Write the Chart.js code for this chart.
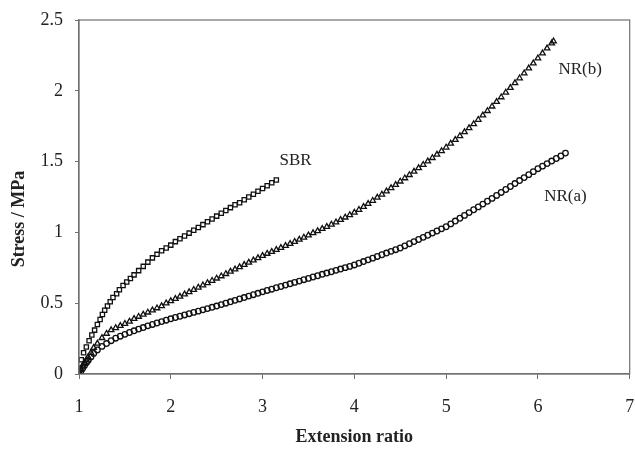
<!DOCTYPE html>
<html>
<head>
<meta charset="utf-8">
<script src="https://cdn.jsdelivr.net/npm/chart.js@4/dist/chart.umd.min.js"></script>
<style>
  html, body { margin: 0; padding: 0; background: #fff; }
  #wrap { width: 635px; height: 450px; }
</style>
</head>
<body>
<div id="wrap"><canvas id="stressChart"></canvas></div>
<script>
/* ── data ── */
const sbrX = [1.00,1.01,1.025,1.05,1.08,1.11,1.14,1.17,1.20,1.23,1.255,1.28,1.31,1.34,1.37,1.41,1.44,1.48,1.52,1.56,
  1.60,1.65,1.70,1.75,1.80,1.85,1.90,1.95,2.00,2.05,2.10,2.15,2.20,2.25,2.30,2.35,2.40,2.45,2.50,2.55,
  2.60,2.65,2.70,2.75,2.80,2.85,2.90,2.95,3.00,3.05,3.10,3.15];
const sbrY = [0.00,0.04,0.10,0.15,0.19,0.235,0.275,0.31,0.35,0.385,0.42,0.45,0.48,0.51,0.54,0.567,0.595,0.625,0.65,0.675,
  0.70,0.73,0.76,0.79,0.82,0.845,0.87,0.89,0.91,0.935,0.955,0.975,0.995,1.015,1.035,1.055,1.075,1.095,1.115,1.135,
  1.155,1.175,1.195,1.21,1.23,1.25,1.27,1.29,1.31,1.33,1.35,1.37];

const nrbX = [1.00,1.02,1.04,1.06,1.08,1.10,1.13,1.16,1.20,1.25,1.30,1.35,1.40,1.45,1.50,1.55,1.60,1.65,1.70,1.75,
  1.80,1.85,1.90,1.95,2.00,2.05,2.10,2.15,2.20,2.25,2.30,2.35,2.40,2.45,2.50,2.55,2.60,2.65,2.70,2.75,
  2.80,2.85,2.90,2.95,3.00,3.05,3.10,3.15,3.20,3.25,3.30,3.35,3.40,3.45,3.50,3.55,3.60,3.65,3.70,3.75,
  3.80,3.85,3.90,3.95,4.00,4.05,4.10,4.15,4.20,4.25,4.30,4.35,4.40,4.45,4.50,4.55,4.60,4.65,4.70,4.75,
  4.80,4.85,4.90,4.95,5.00,5.05,5.10,5.15,5.20,5.25,5.30,5.35,5.40,5.45,5.50,5.55,5.60,5.65,5.70,5.75,
  5.80,5.85,5.90,5.95,6.00,6.05,6.10,6.15,6.17];
const nrbY = [0.00,0.03,0.06,0.08,0.10,0.12,0.15,0.185,0.215,0.255,0.285,0.31,0.325,0.34,0.355,0.37,0.39,0.405,0.42,0.435,
  0.45,0.465,0.48,0.50,0.515,0.531,0.547,0.563,0.579,0.595,0.611,0.627,0.643,0.659,0.675,0.691,0.707,0.723,0.739,0.755,
  0.771,0.787,0.803,0.819,0.835,0.85,0.863,0.877,0.891,0.905,0.919,0.934,0.949,0.964,0.98,0.995,1.01,1.025,1.04,1.056,
  1.072,1.089,1.106,1.123,1.14,1.16,1.181,1.202,1.224,1.246,1.268,1.29,1.313,1.336,1.36,1.383,1.406,1.43,1.454,1.478,
  1.502,1.526,1.55,1.575,1.60,1.627,1.654,1.681,1.709,1.737,1.765,1.796,1.827,1.858,1.89,1.922,1.955,1.988,2.021,2.055,
  2.089,2.124,2.159,2.194,2.23,2.265,2.30,2.335,2.35];

const nraX = [1.00,1.02,1.04,1.06,1.08,1.10,1.13,1.16,1.20,1.25,1.30,1.35,1.40,1.45,1.50,1.55,1.60,1.65,1.70,1.75,
  1.80,1.85,1.90,1.95,2.00,2.05,2.10,2.15,2.20,2.25,2.30,2.35,2.40,2.45,2.50,2.55,2.60,2.65,2.70,2.75,
  2.80,2.85,2.90,2.95,3.00,3.05,3.10,3.15,3.20,3.25,3.30,3.35,3.40,3.45,3.50,3.55,3.60,3.65,3.70,3.75,
  3.80,3.85,3.90,3.95,4.00,4.05,4.10,4.15,4.20,4.25,4.30,4.35,4.40,4.45,4.50,4.55,4.60,4.65,4.70,4.75,
  4.80,4.85,4.90,4.95,5.00,5.05,5.10,5.15,5.20,5.25,5.30,5.35,5.40,5.45,5.50,5.55,5.60,5.65,5.70,5.75,
  5.80,5.85,5.90,5.95,6.00,6.05,6.10,6.15,6.20,6.25,6.30];
const nraY = [0.00,0.02,0.04,0.06,0.08,0.095,0.12,0.145,0.17,0.195,0.215,0.235,0.253,0.267,0.28,0.293,0.305,0.317,0.328,0.34,
  0.35,0.36,0.37,0.38,0.39,0.399,0.408,0.417,0.426,0.435,0.444,0.453,0.462,0.471,0.48,0.49,0.50,0.51,0.52,0.53,
  0.54,0.55,0.56,0.57,0.58,0.59,0.599,0.609,0.618,0.628,0.637,0.647,0.656,0.666,0.675,0.685,0.694,0.704,0.713,0.722,
  0.732,0.741,0.751,0.76,0.77,0.782,0.794,0.806,0.818,0.83,0.842,0.854,0.866,0.878,0.89,0.905,0.92,0.935,0.95,0.965,
  0.98,0.995,1.01,1.025,1.04,1.06,1.08,1.10,1.12,1.14,1.16,1.18,1.20,1.22,1.24,1.261,1.282,1.303,1.324,1.345,
  1.366,1.387,1.408,1.429,1.45,1.468,1.486,1.504,1.522,1.54,1.56];

const xTicks = [1, 2, 3, 4, 5, 6, 7];
const yTicks = [0, 0.5, 1, 1.5, 2, 2.5];

const curveLabels = [
  { text: 'SBR',   x: 3.36, y: 1.51 },
  { text: 'NR(b)', x: 6.46, y: 2.15 },
  { text: 'NR(a)', x: 6.30, y: 1.25 },
];

const INK   = '#111';
const AXIS  = '#707070';
const SERIF = '"Liberation Serif", "Times New Roman", serif';

function pts(xs, ys) {
  return xs.map((x, i) => ({ x, y: ys[i] }));
}

function markerSet(label, xs, ys, style, r) {
  return {
    label,
    data: pts(xs, ys),
    showLine: false,
    pointStyle: style,
    pointRadius: r,
    pointBorderWidth: 1.3,
    pointBorderColor: INK,
    pointBackgroundColor: 'rgba(255,255,255,0)',
  };
}

/* frame, y title and curve names */
const framePlugin = {
  id: 'frame',
  afterDraw(chart) {
    const { ctx, chartArea: a, scales } = chart;
    ctx.save();
    ctx.strokeStyle = AXIS;
    ctx.lineWidth = 1.2;
    ctx.strokeRect(a.left, a.top, a.right - a.left, a.bottom - a.top);
    ctx.fillStyle = '#222';
    ctx.font = '17px ' + SERIF;
    ctx.textAlign = 'center';
    ctx.textBaseline = 'middle';
    curveLabels.forEach(l => {
      ctx.fillText(l.text, scales.x.getPixelForValue(l.x), scales.y.getPixelForValue(l.y));
    });
    // y axis title sits a bit below the axis centre in the original
    ctx.translate(19, 219);
    ctx.rotate(-Math.PI / 2);
    ctx.font = 'bold 18px ' + SERIF;
    ctx.fillText('Stress / MPa', 0, 0);
    ctx.restore();
  }
};

new Chart(document.getElementById('stressChart'), {
  type: 'scatter',
  data: {
    datasets: [
      markerSet('SBR', sbrX, sbrY, 'rect', 3),
      markerSet('NR(b)', nrbX, nrbY, 'triangle', 3.2),
      markerSet('NR(a)', nraX, nraY, 'circle', 2.8),
    ]
  },
  options: {
    responsive: true,
    maintainAspectRatio: false,
    animation: false,
    layout: { padding: { left: 0, right: 1, top: 20, bottom: 0 } },
    plugins: {
      legend: { display: false },
      tooltip: { enabled: false },
    },
    scales: {
      x: {
        type: 'linear',
        min: 1, max: 7,
        afterBuildTicks: s => { s.ticks = xTicks.map(v => ({ value: v })); },
        afterFit: s => { s.height = 76; s.paddingLeft = 0; s.paddingRight = 0; },
        grid: { drawOnChartArea: false, drawTicks: true, tickLength: 5, color: AXIS, lineWidth: 1 },
        border: { display: true, color: AXIS, width: 1.2 },
        ticks: { color: '#222', padding: 17, font: { family: SERIF, size: 18 }, maxRotation: 0 },
        title: {
          display: true, text: 'Extension ratio', color: '#222',
          font: { family: SERIF, size: 18, weight: 'bold' },
          padding: { top: 0, bottom: 2 }
        }
      },
      y: {
        type: 'linear',
        min: 0, max: 2.5,
        afterBuildTicks: s => { s.ticks = yTicks.map(v => ({ value: v })); },
        afterFit: s => { s.width = 79; s.paddingTop = 0; s.paddingBottom = 0; },
        grid: { drawOnChartArea: false, drawTicks: true, tickLength: 4, color: AXIS, lineWidth: 1 },
        border: { display: true, color: AXIS, width: 1.2 },
        ticks: {
          color: '#222', padding: 12, font: { family: SERIF, size: 18 },
          callback: v => String(v)
        },
        title: { display: false }
      }
    }
  },
  plugins: [framePlugin]
});
</script>
</body>
</html>
